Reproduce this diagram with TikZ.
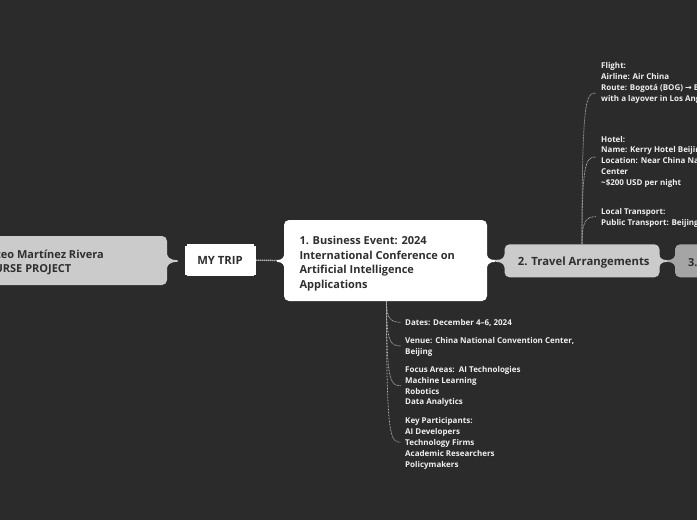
\documentclass[tikz,border=0pt]{standalone}
\usepackage{fontspec}
\setmainfont{Open Sans}
\newfontfamily\arrowfont{DejaVu Sans}
\definecolor{bg}{HTML}{2B2B2B}
\definecolor{lightnode}{HTML}{CBCBCB}
\definecolor{midnode}{HTML}{A5A5A5}
\definecolor{darktext}{HTML}{2F2F2F}
\definecolor{subwhite}{HTML}{F0F0F0}
\definecolor{branchc}{HTML}{B5B5B5}
\newcommand{\myflare}[5]{\fill[#5] (#1,{#3-#4}) .. controls (#1,{#3-3}) and ({#1+0.35*(#2-#1)},{#3-0.9}) .. (#2,{#3-0.9}) -- (#2,{#3+0.9}) .. controls ({#1+0.35*(#2-#1)},{#3+0.9}) and (#1,{#3+3}) .. (#1,{#3+#4}) -- cycle;}
\begin{document}
\begin{tikzpicture}[x=1pt,y=-1pt,
  boxstyle/.style={rounded corners=5pt, inner sep=0pt, draw=none},
  toptext/.style={font=\bfseries\fontsize{11}{14.7}\selectfont, text=darktext, inner sep=0pt, align=left},
  subtxt/.style={font=\bfseries\fontsize{8}{10.9}\selectfont, text=subwhite, inner sep=0pt, align=left, anchor=base west},
  branch/.style={draw=branchc, line width=0.75pt, dash pattern=on 0.75pt off 0.75pt}]
\useasboundingbox (0,0) rectangle (697,520);
\clip (0,0) rectangle (697,520);
\fill[bg] (-5,-5) rectangle (702,525);

% root node
\node[boxstyle, fill=lightnode, minimum width=227pt, minimum height=49pt] (root) at (53.5,260.5) {};
\myflare{166}{177.5}{261}{13}{lightnode}
\node[toptext, anchor=east] (roottext) at (104,262.5) {Mateo Martínez Rivera\\COURSE PROJECT};

% MY TRIP
\fill[white] (186.5,244) rectangle (253.5,276);
\node[fill=white, inner sep=0pt, minimum width=71pt, minimum height=28.5pt, font=\bfseries\fontsize{11.3}{14}\selectfont, text=darktext] (mytrip) at (220,260.25) {MY TRIP};

% main node
\node[boxstyle, fill=white, minimum width=203pt, minimum height=81pt] (main) at (385.5,260.5) {};
\draw[white, line width=1.3pt, dash pattern=on 1pt off 1pt] (mytrip.east) -- (main.west);
\myflare{285}{277}{261}{13}{white}
\node[toptext, anchor=west] (maintext) at (299.3,263.5) {1. Business Event: 2024\\International Conference on\\Artificial Intelligence\\Applications};

% travel node
\node[boxstyle, fill=lightnode, minimum width=155pt, minimum height=33pt] (travel) at (582,260.8) {};
\node[boxstyle, fill=midnode, minimum width=65pt, minimum height=33pt] (third) at (707.5,260.8) {};
\draw[lightnode, line width=1.6pt] (main.east) -- (travel.west);
\draw[lightnode, line width=1.6pt] (travel.east) -- (third.west);
\myflare{486}{495}{261}{13}{white}
\myflare{505.5}{496}{261}{13}{lightnode}
\myflare{658.5}{667}{261}{12}{lightnode}
\myflare{676}{667}{261}{12}{midnode}
\node[toptext, anchor=west, font=\bfseries\fontsize{11.3}{14.7}\selectfont] (traveltext) at (517.7,262.5) {2. Travel Arrangements};
\node[toptext, anchor=west] (thirdtext) at (688,262.5) {3.};

% lower subtopics (base = baseline of last line)
\node[subtxt] (dates) at (405,325.2) {Dates: December 4–6, 2024};
\node[subtxt] (venue) at (405,354.6) {Venue: China National Convention Center,\\Beijing};
\node[subtxt] (focus) at (405,404.9) {Focus Areas:\ \ AI Technologies\\Machine Learning\\Robotics\\Data Analytics};
\node[subtxt] (key) at (405,467.2) {Key Participants:\\AI Developers\\Technology Firms\\Academic Researchers\\Policymakers};
\coordinate (datesin) at (401,322.3);
\coordinate (venuein) at (401,346);
\coordinate (focusin) at (401,385.7);
\coordinate (keyin) at (401,442.3);
\draw[branch] ([xshift=1pt]main.south) .. controls (386.5,318.3) and (390,322.3) .. (datesin);
\draw[branch] ([xshift=1pt]main.south) .. controls (386.5,342) and (390,346) .. (venuein);
\draw[branch] ([xshift=1pt]main.south) .. controls (386.5,381.7) and (390,385.7) .. (focusin);
\draw[branch] ([xshift=1pt]main.south) .. controls (386.5,438.3) and (390,442.3) .. (keyin);

% upper subtopics
\node[subtxt] (flight) at (601,101.2) {Flight:\\Airline: Air China\\Route: Bogotá (BOG) {\arrowfont\bfseries →} Beijing (PEK)\\with a layover in Los Angeles};
\node[subtxt] (hotel) at (601,185.6) {Hotel:\\Name: Kerry Hotel Beijing\\Location: Near China National Convention\\Center\\\textasciitilde\$200 USD per night};
\node[subtxt] (local) at (601,225.6) {Local Transport:\\Public Transport: Beijing Subway};
\coordinate (flightin) at (596,93);
\coordinate (hotelin) at (596,157);
\coordinate (localin) at (596,216.7);
\draw[branch] (travel.north) .. controls (582,97) and (586,93) .. (flightin);
\draw[branch] (travel.north) .. controls (582,161) and (586,157) .. (hotelin);
\draw[branch] (travel.north) .. controls (582,220.7) and (586,216.7) .. (localin);
\end{tikzpicture}
\end{document}
